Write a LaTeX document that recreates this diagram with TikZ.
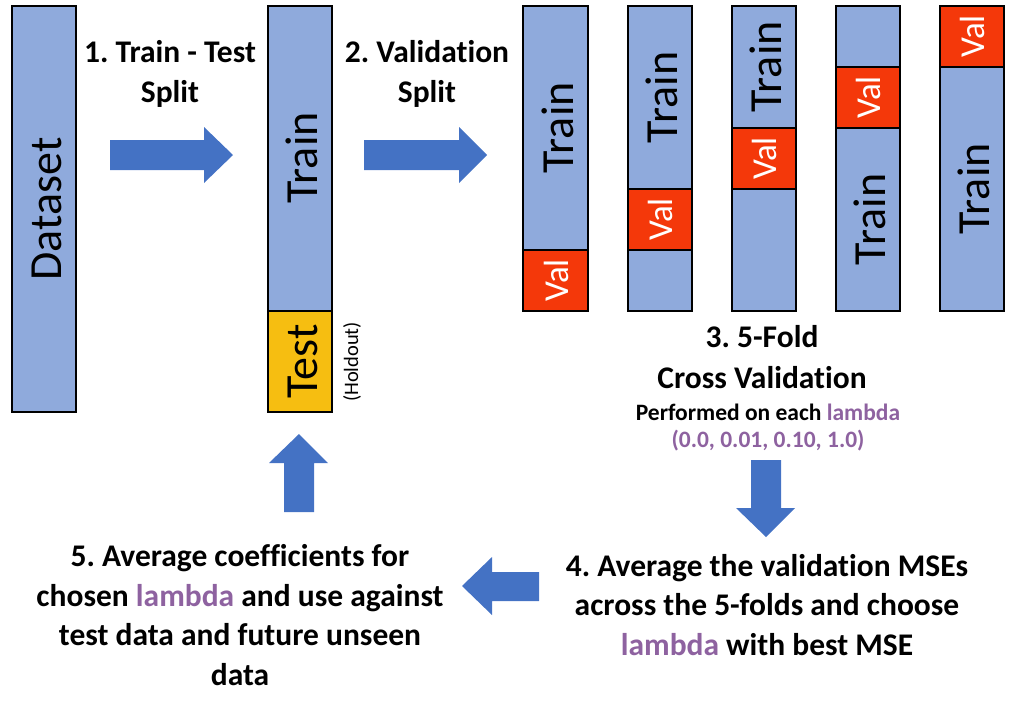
\documentclass[tikz,border=0pt]{standalone}
\usepackage{fontspec}
\setmainfont[Ligatures=NoCommon]{Carlito}
\definecolor{barblue}{HTML}{8FAADC}
\definecolor{arrowblue}{HTML}{4472C4}
\definecolor{valred}{HTML}{F4380A}
\definecolor{testgold}{HTML}{F6BE11}
\definecolor{lampurple}{HTML}{8E62A0}
\frenchspacing
\begin{document}
\begin{tikzpicture}[x=1pt,y=-1pt,
  barline/.style={draw=black,line width=2.6pt},
  bigtxt/.style={rotate=90,anchor=base,inner sep=0pt,font=\fontsize{46}{46}\selectfont},
  valtxt/.style={rotate=90,anchor=base,inner sep=0pt,text=white,font=\fontsize{35}{35}\selectfont},
  steptxt/.style={align=center,anchor=base,inner sep=0pt,font=\bfseries\fontsize{31.5}{39.5}\selectfont},
  smalltxt/.style={align=center,anchor=base,inner sep=0pt,font=\bfseries\fontsize{23.5}{27}\selectfont},
  blockarrow/.style={fill=arrowblue}
]
\useasboundingbox (0,0) rectangle (1017,713);

% Dataset bar
\filldraw[fill=barblue,barline] (12,6) rectangle (76,412);
\node[bigtxt] (dataset) at (61.5,209) {Dataset};

% Train / Test bar
\fill[barblue] (268,6) rectangle (332,311);
\fill[testgold] (268,311) rectangle (332,412);
\draw[barline] (268,311) -- (332,311);
\draw[barline] (268,6) rectangle (332,412);
\node[bigtxt] (train) at (317.5,158) {Train};
\node[bigtxt] (test) at (317.5,361.5) {Test};
\node[rotate=90,inner sep=0pt,font=\fontsize{20.5}{20.5}\selectfont] (holdout) at (352,362) {(Holdout)};

% Fold 1
\fill[barblue] (523,6) rectangle (588,311);
\fill[valred] (523,250) rectangle (588,311);
\draw[barline] (523,250) -- (588,250);
\draw[barline] (523,6) rectangle (588,311);
\node[bigtxt] (f1train) at (573,128) {Train};
\node[valtxt] (f1val) at (568,280.5) {Val};
% Fold 2
\fill[barblue] (628,6) rectangle (692,311);
\fill[valred] (628,189) rectangle (692,250);
\draw[barline] (628,189) -- (692,189) (628,250) -- (692,250);
\draw[barline] (628,6) rectangle (692,311);
\node[bigtxt] (f2train) at (677.5,97.5) {Train};
\node[valtxt] (f2val) at (672.5,219.5) {Val};
% Fold 3
\fill[barblue] (732,6) rectangle (796,311);
\fill[valred] (732,128) rectangle (796,189);
\draw[barline] (732,128) -- (796,128) (732,189) -- (796,189);
\draw[barline] (732,6) rectangle (796,311);
\node[bigtxt] (f3train) at (781.5,67) {Train};
\node[valtxt] (f3val) at (776.5,158.5) {Val};
% Fold 4
\fill[barblue] (836,6) rectangle (900,311);
\fill[valred] (836,67) rectangle (900,128);
\draw[barline] (836,67) -- (900,67) (836,128) -- (900,128);
\draw[barline] (836,6) rectangle (900,311);
\node[bigtxt] (f4train) at (885.5,219.5) {Train};
\node[valtxt] (f4val) at (880.5,97.5) {Val};
% Fold 5
\fill[barblue] (940,6) rectangle (1004,311);
\fill[valred] (940,6) rectangle (1004,67);
\draw[barline] (940,67) -- (1004,67);
\draw[barline] (940,6) rectangle (1004,311);
\node[bigtxt] (f5train) at (989.5,189) {Train};
\node[valtxt] (f5val) at (984.5,36.5) {Val};

% Step texts (base anchor = baseline of last line)
\node[steptxt] (s1) at (170,102) {1. Train - Test\\Split};
\node[steptxt] (s2) at (427,102) {2. Validation\\Split};
\node[steptxt,font=\bfseries\fontsize{31.5}{41}\selectfont] (s3) at (762,388) {3. 5-Fold\\Cross Validation};
\node[smalltxt] (s3b) at (768,447) {Performed on each \textcolor{lampurple}{lambda}\\\textcolor{lampurple}{(0.0, 0.01, 0.10, 1.0)}};
\node[steptxt] (s4) at (767,655) {4. Average the validation MSEs\\across the 5-folds and choose\\\textcolor{lampurple}{lambda} with best MSE};
\node[steptxt] (s5) at (240,685) {5. Average coefficients for\\chosen \textcolor{lampurple}{lambda} and use against\\test data and future unseen\\data};

% Block arrows
\fill[blockarrow] (110,140) -- (204,140) -- (204,127) -- (233,155) -- (204,183) -- (204,170) -- (110,170) -- cycle;
\fill[blockarrow] (364,140) -- (459,140) -- (459,127) -- (487,155) -- (459,183) -- (459,170) -- (364,170) -- cycle;
\fill[blockarrow] (751,460) -- (781,460) -- (781,508) -- (795,508) -- (766,537) -- (736,508) -- (751,508) -- cycle;
\fill[blockarrow] (539,572) -- (539,601) -- (492,601) -- (492,615) -- (462,586) -- (492,557) -- (492,572) -- cycle;
\fill[blockarrow] (284,512) -- (314,512) -- (314,463) -- (328,463) -- (299,434) -- (269,463) -- (284,463) -- cycle;
\end{tikzpicture}
\end{document}
